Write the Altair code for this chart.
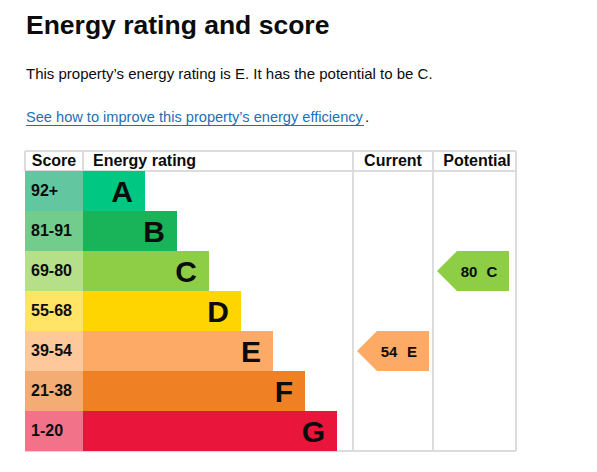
import altair as alt
import pandas as pd

# ---- data ----
bands = ["A", "B", "C", "D", "E", "F", "G"]
score_ranges = ["92+", "81-91", "69-80", "55-68", "39-54", "21-38", "1-20"]
band_colors = ["#00c781", "#19b459", "#8dce46", "#ffd500", "#fcaa65", "#ef8023", "#e9153b"]
score_colors = ["#62c6a0", "#72cc8c", "#b5df89", "#ffe466", "#fec89b", "#f3ac74", "#f27389"]
bar_ends = [120, 152, 184, 216, 248, 280, 312]
column_headers = ["Score", "Energy rating", "Current", "Potential"]
current_score, current_band = 54, "E"
potential_score, potential_band = 80, "C"
heading = "Energy rating and score"
summary = "This property\u2019s energy rating is E. It has the potential to be C."
link_text = "See how to improve this property\u2019s energy efficiency"

# ---- layout (plot-area pixel units) ----
SCORE_W = 58
RATING_END = 328
CURRENT_END = 408
TABLE_END = 491
HEADER_H = 20
ROWS_H = 280
FONT = "Liberation Sans"
INK = "#0b0c0c"
GRID = "#dcdcdc"

color_of = dict(zip(bands, band_colors))

xs = alt.Scale(domain=[0, TABLE_END], nice=False, zero=False)
ys = alt.Scale(domain=bands, paddingInner=0, paddingOuter=0)
Y = alt.Y("band:N", scale=ys, axis=None)

score_df = pd.DataFrame({"band": bands, "x0": 0, "x1": SCORE_W,
                         "color": score_colors, "label": score_ranges})
bar_df = pd.DataFrame({"band": bands, "x0": SCORE_W, "x1": bar_ends,
                       "color": band_colors})
arrow_df = pd.DataFrame({
    "band": [current_band, potential_band],
    "score": [str(current_score), str(potential_score)],
    "xc": [RATING_END + 40, CURRENT_END + 40],
    "color": [color_of[current_band], color_of[potential_band]],
})
header_df = pd.DataFrame({"label": column_headers,
                          "x": [SCORE_W / 2, SCORE_W + 10, (RATING_END + CURRENT_END) / 2, 452]})

vlines = pd.DataFrame({"x": [RATING_END, CURRENT_END, TABLE_END]})
vlines_hdr = pd.DataFrame({"x": [0, SCORE_W]})

layers = []

# grid lines
for yv in [-HEADER_H, 0, ROWS_H]:
    layers.append(alt.Chart(pd.DataFrame({"a": [0]})).mark_rule(color=GRID, strokeWidth=2).encode(
        x=alt.value(0), x2=alt.value(TABLE_END), y=alt.value(yv)))
layers.append(alt.Chart(vlines).mark_rule(color=GRID, strokeWidth=2).encode(
    x=alt.X("x:Q", scale=xs, axis=None), y=alt.value(-HEADER_H), y2=alt.value(ROWS_H)))
layers.append(alt.Chart(vlines_hdr).mark_rule(color=GRID, strokeWidth=2).encode(
    x=alt.X("x:Q", scale=xs, axis=None), y=alt.value(-HEADER_H), y2=alt.value(0)))

# score cells and bars
layers.append(alt.Chart(score_df).mark_bar(strokeWidth=0).encode(
    x=alt.X("x0:Q", scale=xs, axis=None), x2="x1:Q", y=Y,
    color=alt.Color("color:N", scale=None)))
layers.append(alt.Chart(bar_df).mark_bar(strokeWidth=0).encode(
    x=alt.X("x0:Q", scale=xs, axis=None), x2="x1:Q", y=Y,
    color=alt.Color("color:N", scale=None)))
layers.append(alt.Chart(score_df).mark_text(
    align="left", baseline="alphabetic", dx=6, dy=5, font=FONT, fontSize=16,
    fontWeight="bold", color=INK).encode(
    x=alt.X("x0:Q", scale=xs, axis=None), y=Y, text="label:N"))
layers.append(alt.Chart(bar_df).mark_text(
    align="right", baseline="alphabetic", dx=-12, dy=10.5, font=FONT, fontSize=30,
    fontWeight="bold", color=INK).encode(
    x=alt.X("x1:Q", scale=xs, axis=None), y=Y, text="band:N"))

# arrows
arrow_path = "M-1.8,0L-0.8,-1L1.8,-1L1.8,1L-0.8,1Z"
layers.append(alt.Chart(arrow_df).mark_point(
    shape=arrow_path, size=1600, filled=True, opacity=1, strokeWidth=0).encode(
    x=alt.X("xc:Q", scale=xs, axis=None), y=Y, color=alt.Color("color:N", scale=None)))
layers.append(alt.Chart(arrow_df).mark_text(
    align="center", baseline="alphabetic", dx=-4, dy=5.5, font=FONT, fontSize=15,
    fontWeight="bold", color=INK).encode(
    x=alt.X("xc:Q", scale=xs, axis=None), y=Y, text="score:N"))
layers.append(alt.Chart(arrow_df).mark_text(
    align="center", baseline="alphabetic", dx=19, dy=5.5, font=FONT, fontSize=15,
    fontWeight="bold", color=INK).encode(
    x=alt.X("xc:Q", scale=xs, axis=None), y=Y, text="band:N"))

# column headers
hdr = header_df.copy()
hdr["align"] = ["center", "left", "center", "center"]
for al in ["center", "left"]:
    layers.append(alt.Chart(hdr[hdr["align"] == al]).mark_text(
        align=al, baseline="alphabetic", font=FONT, fontSize=16, fontWeight="bold",
        color=INK).encode(
        x=alt.X("x:Q", scale=xs, axis=None), y=alt.value(-5), text="label:N"))

# page heading and texts
one = pd.DataFrame({"a": [0]})
layers.append(alt.Chart(one).mark_text(
    align="left", baseline="alphabetic", font=FONT, fontSize=26.5, fontWeight="bold",
    color=INK, text=heading).encode(x=alt.value(1), y=alt.value(-137.5)))
layers.append(alt.Chart(one).mark_text(
    align="left", baseline="alphabetic", font=FONT, fontSize=15,
    color=INK, text=summary).encode(x=alt.value(1), y=alt.value(-92.5)))
layers.append(alt.Chart(one).mark_text(
    align="left", baseline="alphabetic", font=FONT, fontSize=14.6,
    color="#1d70b8", text=link_text).encode(x=alt.value(1), y=alt.value(-49)))
layers.append(alt.Chart(one).mark_rule(color="#1d70b8", strokeWidth=1).encode(
    x=alt.value(1), x2=alt.value(339), y=alt.value(-45.5)))
layers.append(alt.Chart(one).mark_text(
    align="left", baseline="alphabetic", font=FONT, fontSize=15,
    color=INK, text=".").encode(x=alt.value(340), y=alt.value(-49)))

chart = alt.layer(*layers).properties(
    width=TABLE_END, height=ROWS_H,
    padding={"left": 17, "top": 163, "right": 10, "bottom": 10},
    autosize="none",
).configure_view(stroke=None)

chart.save("out.html", embed_options={"renderer": "svg", "actions": False})
